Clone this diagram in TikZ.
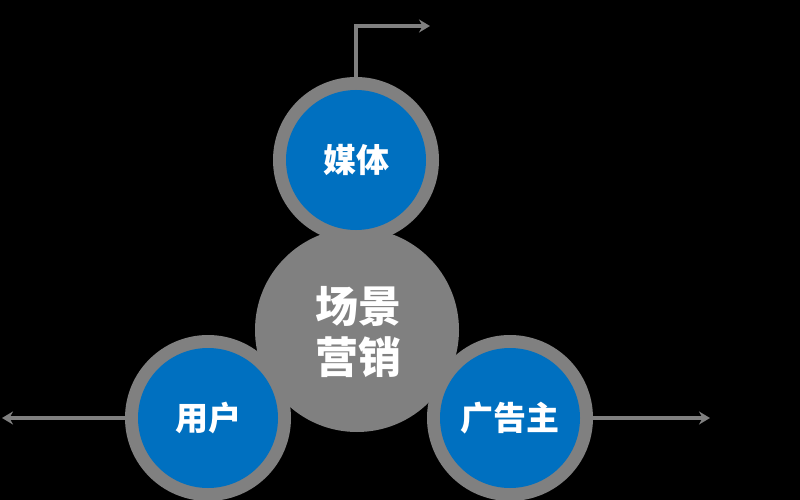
\documentclass[tikz,border=0pt]{standalone}
\usepackage{fontspec}
\newfontfamily\cjk{Noto Sans CJK SC}
\usetikzlibrary{arrows.meta}
\definecolor{cblue}{HTML}{0070C0}
\definecolor{cgrey}{HTML}{808080}
\tikzset{
  ring/.style={circle, fill=cgrey, minimum size=166pt, inner sep=0pt},
  core/.style={circle, fill=cblue, minimum size=140pt, inner sep=0pt, text=white, font=\cjk\bfseries\fontsize{33}{38}\selectfont},
  hub/.style={circle, fill=cgrey, minimum size=204pt, inner sep=0pt},
  link/.style={draw=cgrey, line width=4.5pt, -{Stealth[length=11pt, width=13pt]}}
}
\begin{document}
\begin{tikzpicture}[x=1pt, y=-1pt]
\useasboundingbox (0,0) rectangle (800,500);
\fill[black] (0,0) rectangle (800,500);
\node[hub] (hub) at (357,330) {};
\node[ring] (rt) at (356,160) {};
\node[ring] (rl) at (208,418) {};
\node[ring] (rr) at (510,418) {};
\node[core] (media) at (rt) {媒体};
\node[core] (user) at (rl) {用户};
\node[core] (adv) at (rr) {广告主};
\node[text=white, align=center, font=\cjk\bfseries\fontsize{43}{51}\selectfont] (hubtext) at (358,332) {场景\\营销};
\coordinate (topturn) at (356,26);
\coordinate (topend) at (430,26);
\coordinate (leftend) at (2,416);
\coordinate (rightend) at (710,416);
\draw[link] (rt.north) -- (topturn) -- (topend);
\draw[link] (rl.west) -- (rl.west -| leftend);
\draw[link] (rr.east) -- (rr.east -| rightend);
\end{tikzpicture}
\end{document}
